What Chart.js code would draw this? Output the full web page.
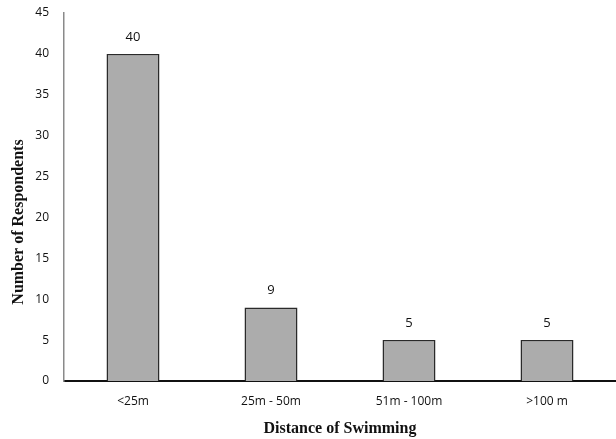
<!DOCTYPE html>
<html>
<head>
  <title>Distance of Swimming</title>
  <script src="https://cdn.jsdelivr.net/npm/chart.js"></script>
  <style>
    body { margin: 0; background: #fff; }
    #chart { display: block; }
  </style>
</head>
<body>
<canvas id="chart" width="616" height="439"></canvas>
<script>
const categories = ['<25m', '25m - 50m', '51m - 100m', '>100 m'];
const respondents = [40, 9, 5, 5];
const yTitle = 'Number of Respondents';
const xTitle = 'Distance of Swimming';

// value labels above the bars
const valueLabels = {
  id: 'valueLabels',
  afterDatasetsDraw(chart) {
    const ctx = chart.ctx;
    const meta = chart.getDatasetMeta(0);
    ctx.save();
    ctx.font = '13px "Open Sans", sans-serif';
    ctx.fillStyle = '#111';
    ctx.textAlign = 'center';
    ctx.textBaseline = 'middle';
    meta.data.forEach((bar, i) => {
      ctx.fillText(String(respondents[i]), bar.x, bar.y - 17);
    });
    ctx.restore();
  }
};

// rotated y title, sits a bit below the axis middle like the original
const yAxisTitle = {
  id: 'yAxisTitle',
  afterDraw(chart) {
    const ctx = chart.ctx;
    ctx.save();
    ctx.translate(19, 222);
    ctx.rotate(-Math.PI / 2);
    ctx.font = 'bold 16px "Liberation Serif", "Times New Roman", serif';
    ctx.fillStyle = '#111';
    ctx.textAlign = 'center';
    ctx.textBaseline = 'middle';
    ctx.fillText(yTitle, 0, 0);
    ctx.restore();
  }
};

new Chart(document.getElementById('chart'), {
  type: 'bar',
  data: {
    labels: categories,
    datasets: [{
      data: respondents,
      backgroundColor: '#acacac',
      borderColor: '#2a2a2a',
      borderWidth: 1.5,
      categoryPercentage: 1,
      barPercentage: 0.384
    }]
  },
  options: {
    responsive: false,
    animation: false,
    layout: { padding: { top: 13, right: 0, bottom: 0, left: 0 } },
    plugins: {
      legend: { display: false },
      tooltip: { enabled: false }
    },
    scales: {
      x: {
        grid: { display: false, drawTicks: false },
        border: { color: '#111', width: 2 },
        ticks: {
          padding: 13,
          color: '#111',
          font: { family: '"Open Sans", sans-serif', size: 12 }
        },
        title: {
          display: true,
          text: xTitle,
          color: '#111',
          font: { family: '"Liberation Serif", "Times New Roman", serif', size: 16, weight: 'bold' },
          padding: { top: 0, bottom: 1 }
        },
        afterFit(scale) {
          scale.height = 58;
          scale.paddingLeft = 0;
          scale.paddingRight = 0;
        }
      },
      y: {
        min: 0,
        max: 45,
        grid: { display: false, drawTicks: false },
        border: { color: '#8a8a8a', width: 1.5 },
        ticks: {
          stepSize: 5,
          padding: 15,
          color: '#111',
          font: { family: '"Open Sans", sans-serif', size: 12 }
        },
        afterFit(scale) {
          scale.width = 64;
          scale.paddingTop = 0;
          scale.paddingBottom = 0;
        }
      }
    }
  },
  plugins: [valueLabels, yAxisTitle]
});
</script>
</body>
</html>
